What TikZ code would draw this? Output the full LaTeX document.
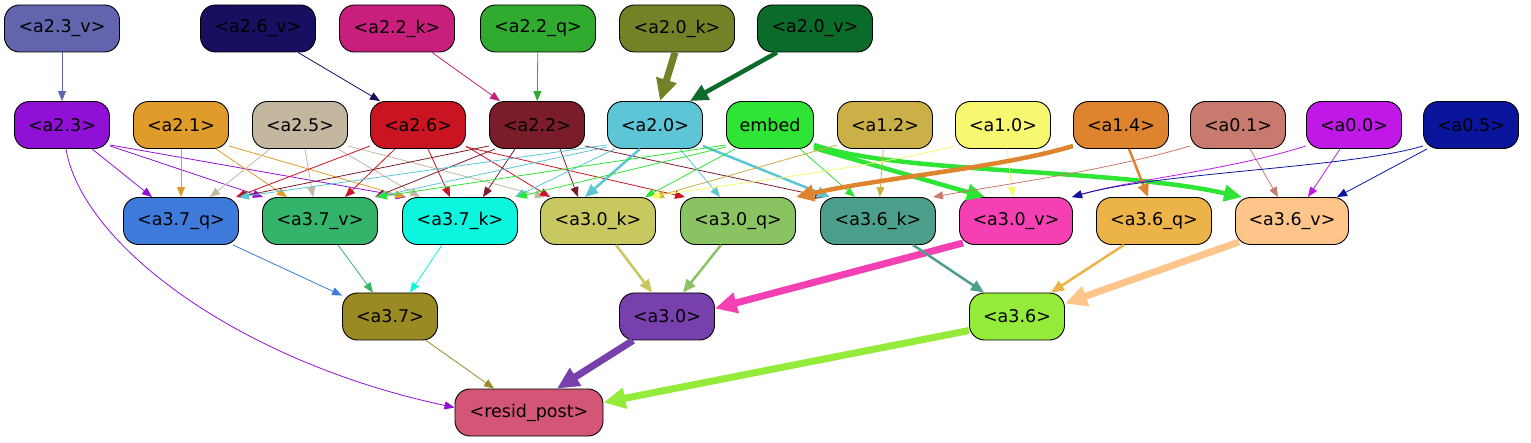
\documentclass[tikz,border=0pt]{standalone}
\usepackage{fontspec}
\setmainfont{DejaVu Sans}
\usetikzlibrary{arrows.meta}
\definecolor{c23v}{HTML}{6264AD}
\definecolor{c26v}{HTML}{170F60}
\definecolor{c22k}{HTML}{C81F7D}
\definecolor{c22q}{HTML}{30AB30}
\definecolor{c20k}{HTML}{758127}
\definecolor{c20v}{HTML}{0A6B2B}
\definecolor{c23}{HTML}{9110D6}
\definecolor{c21}{HTML}{E09C2A}
\definecolor{c25}{HTML}{C4B7A0}
\definecolor{c26}{HTML}{CB1421}
\definecolor{c22}{HTML}{7B1C2B}
\definecolor{c20}{HTML}{5DC5D5}
\definecolor{cemb}{HTML}{2EE536}
\definecolor{c12}{HTML}{CBAF47}
\definecolor{c10}{HTML}{F8F870}
\definecolor{c14}{HTML}{DF842E}
\definecolor{c01}{HTML}{C77A6D}
\definecolor{c00}{HTML}{C018E6}
\definecolor{c05}{HTML}{0A159C}
\definecolor{c37q}{HTML}{3E7AD9}
\definecolor{c37v}{HTML}{34B36A}
\definecolor{c37k}{HTML}{0CF5DE}
\definecolor{c30k}{HTML}{C8C860}
\definecolor{c30q}{HTML}{8AC462}
\definecolor{c36k}{HTML}{4C9F8A}
\definecolor{c30v}{HTML}{F540B4}
\definecolor{c36q}{HTML}{EBB348}
\definecolor{c36v}{HTML}{FEC58B}
\definecolor{c37}{HTML}{998A24}
\definecolor{c30}{HTML}{7840AD}
\definecolor{c36}{HTML}{94EB39}
\definecolor{cres}{HTML}{D45677}
\begin{document}
\begin{tikzpicture}[x=1pt,y=-1pt,
  box/.style={draw=black, line width=0.9pt, rounded corners=15pt, minimum height=47pt, minimum width=95pt, inner sep=0pt, font=\fontsize{17.5}{20}\selectfont, text=black},
  wbox/.style={box, minimum width=115pt},
  e1/.style={line width=0.8pt, -{Triangle[length=10pt,width=8pt]}},
  e2/.style={line width=2.5pt, -{Triangle[length=13pt,width=11pt]}},
  e3/.style={line width=4.5pt, -{Triangle[length=18pt,width=16pt]}},
  e4/.style={line width=7pt, -{Triangle[length=22pt,width=20pt]}}]
\useasboundingbox (0,0) rectangle (1531,443);
% row 1
\node[wbox, fill=c23v] (a23v) at (62,28.5) {<a2.3\_v>};
\node[wbox, fill=c26v] (a26v) at (258,28.5) {<a2.6\_v>};
\node[wbox, fill=c22k] (a22k) at (397,28.5) {<a2.2\_k>};
\node[wbox, fill=c22q] (a22q) at (538,28.5) {<a2.2\_q>};
\node[wbox, fill=c20k] (a20k) at (677,28.5) {<a2.0\_k>};
\node[wbox, fill=c20v] (a20v) at (815,28.5) {<a2.0\_v>};
% row 2
\node[box, fill=c23] (a23) at (62,125) {<a2.3>};
\node[box, fill=c21] (a21) at (181,125) {<a2.1>};
\node[box, fill=c25] (a25) at (300,125) {<a2.5>};
\node[box, fill=c26] (a26) at (418,125) {<a2.6>};
\node[box, fill=c22] (a22) at (537,125) {<a2.2>};
\node[box, fill=c20] (a20) at (655,125) {<a2.0>};
\node[box, fill=cemb, minimum width=87pt] (emb) at (770,125) {embed};
\node[box, fill=c12] (a12) at (885,125) {<a1.2>};
\node[box, fill=c10] (a10) at (1003,125) {<a1.0>};
\node[box, fill=c14] (a14) at (1121,125) {<a1.4>};
\node[box, fill=c01] (a01) at (1238,125) {<a0.1>};
\node[box, fill=c00] (a00) at (1354,125) {<a0.0>};
\node[box, fill=c05] (a05) at (1471,125) {<a0.5>};
% row 3
\node[wbox, fill=c37q] (a37q) at (181,221) {<a3.7\_q>};
\node[wbox, fill=c37v] (a37v) at (320,221) {<a3.7\_v>};
\node[wbox, fill=c37k] (a37k) at (460,221) {<a3.7\_k>};
\node[wbox, fill=c30k] (a30k) at (598,221) {<a3.0\_k>};
\node[wbox, fill=c30q] (a30q) at (738,221) {<a3.0\_q>};
\node[wbox, fill=c36k] (a36k) at (878,221) {<a3.6\_k>};
\node[wbox, fill=c30v, minimum width=113pt] (a30v) at (1016,221) {<a3.0\_v>};
\node[wbox, fill=c36q] (a36q) at (1154,221) {<a3.6\_q>};
\node[wbox, fill=c36v, minimum width=113pt] (a36v) at (1292,221) {<a3.6\_v>};
% row 4
\node[box, fill=c37] (a37) at (390,316.5) {<a3.7>};
\node[box, fill=c30] (a30) at (667,316.5) {<a3.0>};
\node[box, fill=c36] (a36) at (1017,316.5) {<a3.6>};
% row 5
\node[box, fill=cres, minimum width=148pt] (res) at (529,412.5) {<resid\_post>};
% top edges
\draw[e1,c23v] (a23v) -- (a23);
\draw[e1,c26v] ([xshift=40]a26v.south) -- ([xshift=-38]a26.north);
\draw[e1,c22k] ([xshift=35]a22k.south) -- ([xshift=-37]a22.north);
\draw[e1,c22q] (a22q) -- (a22);
\draw[e4,c20k] ([xshift=-2]a20k.south) -- ([xshift=5]a20.north);
\draw[e3,c20v] ([xshift=-38]a20v.south) -- ([xshift=35]a20.north);
% a2.3
\draw[e1,c23] ([xshift=30]a23.south) -- ([xshift=-29]a37q.north);
\draw[e1,c23] ([yshift=3]a23.south east) -- ([xshift=-57]a37v.north);
\draw[e1,c23] ([yshift=4]a23.south east) -- ([xshift=-54]a37k.north);
\draw[e1,c23] ([xshift=4]a23.south) .. controls (82,245) and (240,362) .. ([yshift=5]res.west);
% a2.1
\draw[e1,c21] (a21) -- (a37q);
\draw[e1,c21] ([xshift=35]a21.south) -- ([xshift=-33]a37v.north);
\draw[e1,c21] ([yshift=3]a21.south east) -- ([xshift=-55]a37k.north);
% a2.5
\draw[e1,c25] ([xshift=-30]a25.south) -- ([xshift=29]a37q.north);
\draw[e1,c25] ([xshift=5]a25.south) -- ([xshift=-7]a37v.north);
\draw[e1,c25] ([xshift=38]a25.south) -- ([xshift=-40]a37k.north);
\draw[e1,c25] ([yshift=3]a25.south east) -- ([xshift=-53]a30k.north);
% a2.6
\draw[e1,c26] ([yshift=3]a26.south west) -- ([xshift=55]a37q.north);
\draw[e1,c26] ([xshift=-23]a26.south) -- ([xshift=25]a37v.north);
\draw[e1,c26] ([xshift=10]a26.south) -- ([xshift=-10]a37k.north);
\draw[e1,c26] ([yshift=3]a26.south east) -- ([xshift=-48]a30k.north);
\draw[e1,c26] ([yshift=2]a26.south east) -- ([xshift=-53]a30q.north);
% a2.2
\draw[e1,c22] ([yshift=3]a22.south west) -- ([xshift=57]a37q.north);
\draw[e1,c22] ([xshift=-42]a22.south) -- ([xshift=55]a37v.north);
\draw[e1,c22] ([xshift=-22]a22.south) -- ([xshift=23]a37k.north);
\draw[e1,c22] ([xshift=23]a22.south) -- ([xshift=-20]a30k.north);
\draw[e1,c22] ([yshift=3]a22.south east) -- ([xshift=-53]a36k.north);
% a2.0
\draw[e1,c20] ([yshift=4]a20.south west) -- ([xshift=58]a37q.north);
\draw[e1,c20] ([yshift=2]a20.south west) -- ([xshift=56]a37v.north);
\draw[e1,c20] ([xshift=-40]a20.south) -- ([xshift=55]a37k.north);
\draw[e2,c20] ([xshift=-15]a20.south) -- ([xshift=-13]a30k.north);
\draw[e1,c20] ([xshift=25]a20.south) -- ([xshift=-18]a30q.north);
\draw[e2,c20] ([yshift=3]a20.south east) -- ([xshift=-48]a36k.north);
% embed
\draw[e1,cemb] ([yshift=4]emb.south west) -- ([xshift=57]a37v.north);
\draw[e1,cemb] ([yshift=2]emb.south west) -- ([xshift=57]a37k.north);
\draw[e1,cemb] ([xshift=-35]emb.south) -- ([xshift=47]a30k.north);
\draw[e1,cemb] ([xshift=30]emb.south) -- ([xshift=-23]a36k.north);
\draw[e3,cemb] ([yshift=1]emb.south east) -- ([xshift=-31]a30v.north);
\draw[e3,cemb] ([yshift=4]emb.south east) .. controls (900,174) and (1110,168) .. ([xshift=-50]a36v.north);
% a1.2, a1.0
\draw[e1,c12] ([yshift=4]a12.south west) -- ([xshift=56]a30k.north);
\draw[e1,c12] (a12) -- (a36k);
\draw[e1,c10] ([yshift=3]a10.south west) .. controls (860,170) and (720,185) .. ([xshift=52]a30k.north);
\draw[e1,c10] ([xshift=4]a10.south) -- ([xshift=-3]a30v.north);
% a1.4
\draw[e3,c14] ([yshift=3]a14.south west) .. controls (1000,168) and (880,178) .. ([xshift=58]a30q.north);
\draw[e2,c14] ([xshift=8]a14.south) -- ([xshift=-6]a36q.north);
% a0.1, a0.0, a0.5
\draw[e1,c01] ([yshift=3]a01.south west) .. controls (1110,170) and (1000,185) .. ([xshift=55]a36k.north);
\draw[e1,c01] ([xshift=12]a01.south) -- ([xshift=-14]a36v.north);
\draw[e1,c00] ([yshift=3]a00.south west) .. controls (1230,170) and (1130,180) .. ([xshift=56]a30v.north);
\draw[e1,c00] ([xshift=-14]a00.south) -- ([xshift=16]a36v.north);
\draw[e1,c05] ([yshift=3]a05.south west) .. controls (1350,168) and (1160,172) .. ([xshift=56]a30v.north);
\draw[e1,c05] ([xshift=-44]a05.south) -- ([xshift=45]a36v.north);
% row 3 -> row 4
\draw[e1,c37q] ([xshift=52]a37q.south) -- ([yshift=-3]a37.north west);
\draw[e1,c37v] ([xshift=18]a37v.south) -- ([xshift=-17]a37.north);
\draw[e1,c37k] ([xshift=-18]a37k.south) -- ([xshift=20]a37.north);
\draw[e2,c30k] ([xshift=18]a30k.south) -- ([xshift=-15]a30.north);
\draw[e2,c30q] ([xshift=-17]a30q.south) -- ([xshift=16]a30.north);
\draw[e4,c30v] ([xshift=4,yshift=2]a30v.south west) -- ([yshift=8]a30.east);
\draw[e2,c36k] ([xshift=35]a36k.south) -- ([xshift=-33]a36.north);
\draw[e2,c36q] ([xshift=-30]a36q.south) -- ([xshift=34]a36.north);
\draw[e4,c36v] ([xshift=4,yshift=3]a36v.south west) -- ([yshift=13]a36.east);
% row 4 -> row 5
\draw[e1,c37] ([xshift=36]a37.south) -- ([xshift=-35]res.north);
\draw[e4,c30] ([xshift=-34]a30.south) -- ([xshift=28]res.north);
\draw[e4,c36] ([yshift=-14]a36.west) -- ([yshift=10]res.east);
\end{tikzpicture}
\end{document}
